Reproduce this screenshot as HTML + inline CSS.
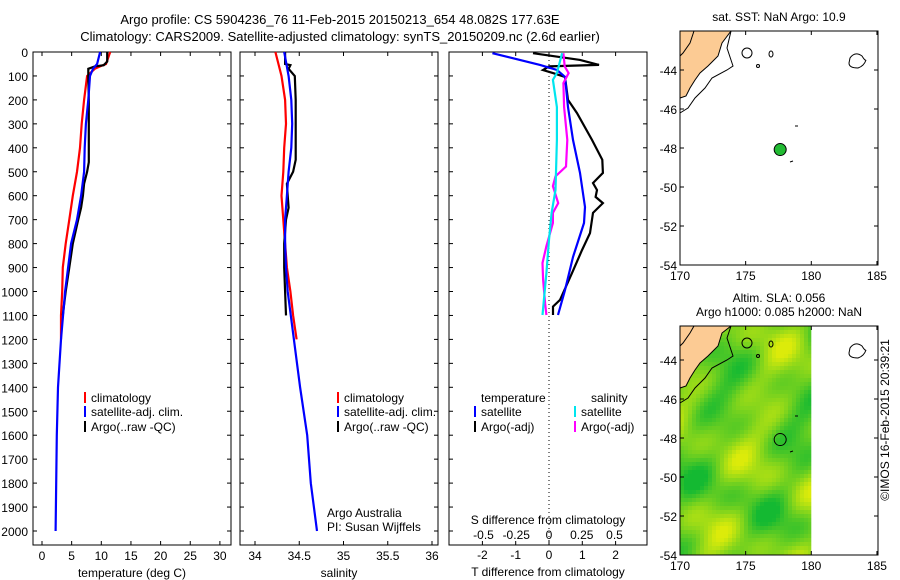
<!DOCTYPE html>
<html><head><meta charset="utf-8"><style>
html,body{margin:0;padding:0;background:#fff;}
svg{display:block;font-family:"Liberation Sans",sans-serif;}
text{font-size:12px;fill:#000;}
</style></head><body>
<svg id="fig" width="900" height="580" viewBox="0 0 900 580" xmlns="http://www.w3.org/2000/svg">
<text x="340" y="24" text-anchor="middle" style="font-size:13px">Argo profile: CS 5904236_76 11-Feb-2015 20150213_654 48.082S 177.63E</text>
<text x="340" y="41" text-anchor="middle" style="font-size:13px">Climatology: CARS2009. Satellite-adjusted climatology: synTS_20150209.nc (2.6d earlier)</text>
<g id="g1"></g>
<g id="g2"></g>
<g id="g3"></g>
<g id="m1"></g>
<g id="m2"></g>
<text transform="translate(889,420) rotate(-90)" text-anchor="middle">©IMOS 16-Feb-2015 20:39:21</text>
</svg>
<script>
// ---- data ----
const depthTicks=[0,100,200,300,400,500,600,700,800,900,1000,1100,1200,1300,1400,1500,1600,1700,1800,1900,2000];
const tTicks=[0,5,10,15,20,25,30];
const sTicks=[34,34.5,35,35.5,36];
const sTickLabels=["34","34.5","35","35.5","36"];
const dTTicks=[-2,-1,0,1,2];
const dSTicks=[-0.5,-0.25,0,0.25,0.5];
const dSTickLabels=["-0.5","-0.25","0","0.25","0.5"];

const climTdepth=[0,50,60,70,100,200,300,400,500,600,700,800,900,1000,1100,1200];
const climT=[11.5,10.8,9.8,8.9,7.6,7.1,6.7,6.4,5.9,5.2,4.6,4.0,3.5,3.4,3.2,3.2];
const satTdepth=[0,50,70,100,200,300,400,500,600,700,800,900,1000,1200,1400,1600,2000];
const satT=[9.8,9.3,8.6,8.1,7.8,7.4,7.2,7.1,6.6,5.9,4.9,4.4,3.9,3.2,2.7,2.5,2.3];
const argoTdepth=[0,40,55,60,70,100,200,300,400,460,500,550,600,650,700,800,900,1000,1100];
const argoT=[11,11,10.4,8.9,7.8,7.8,7.9,7.9,7.9,7.9,7.6,7.1,6.9,6.6,6.1,5.2,4.6,4.0,3.5];

const climSdepth=[0,100,200,300,400,500,600,700,800,900,1000,1100,1200];
const climS=[34.23,34.30,34.34,34.35,34.33,34.32,34.30,34.32,34.34,34.36,34.40,34.43,34.47];
const satSdepth=[0,100,200,300,400,500,600,700,800,900,1000,1400,1600,1800,2000];
const satS=[34.33,34.38,34.41,34.42,34.41,34.38,34.36,34.34,34.34,34.35,34.37,34.51,34.59,34.63,34.70];
const argoSdepth=[0,50,55,70,100,200,300,400,450,500,550,600,650,700,800,900,1000,1100];
const argoS=[34.34,34.34,34.40,34.38,34.45,34.46,34.46,34.46,34.46,34.43,34.36,34.37,34.38,34.35,34.33,34.33,34.34,34.35];

const dTsatDepth=[5,54,75,104,230,367,505,647,714,856,994,1098];
const dTsat=[-1.7,-0.27,0.24,0.48,0.57,0.72,0.93,1.08,1.05,0.72,0.48,0.27];
const dTargoDepth=[5,33,54,60,75,88,104,200,255,367,450,505,547,576,605,631,672,756,827,923,1035,1063,1098];
const dTargo=[-0.48,0.93,1.5,0,-0.18,0.12,0.48,0.57,0.84,1.29,1.6,1.62,1.32,1.44,1.4,1.62,1.32,1.23,0.99,0.69,0.33,0.12,0.12];
const dSsatDepth=[5,88,116,230,367,576,672,784,923,1098];
const dSsat=[0.10,0.06,0.03,0.06,0.06,0.05,0.02,0,-0.02,-0.05];
const dSargoDepth=[5,60,88,130,230,367,478,519,560,631,672,714,811,881,950,1049,1098];
const dSargo=[0.11,0.12,0.15,0.11,0.115,0.14,0.13,0.05,0.03,0.07,0.03,0.03,-0.02,-0.05,-0.045,-0.03,-0.02];

const mapLonTicks=[170,175,180,185];
const mapLatTicks=[-44,-46,-48,-50,-52,-54];
const argoLon=[177.63];
const argoLat=[-48.08];

// ---- helpers ----
const NS="http://www.w3.org/2000/svg";
function mk(p,tag,at){const e=document.createElementNS(NS,tag);for(const k in at)e.setAttribute(k,at[k]);p.appendChild(e);return e;}
const TOP=52,BOT=545;
const yD=d=>TOP+d*0.2395;
function frame(g,x0,x1,name){
  const r=mk(g,'rect',{x:x0,y:TOP,width:x1-x0,height:BOT-TOP,fill:'none',stroke:'#000','stroke-width':1});
  
  
  depthTicks.forEach(d=>{
    mk(g,'line',{x1:x0,x2:x0+4,y1:yD(d),y2:yD(d),stroke:'#000'});
    mk(g,'line',{x1:x1,x2:x1-4,y1:yD(d),y2:yD(d),stroke:'#000'});
  });
}
function xticks(g,vals,labels,fx,ly){
  vals.forEach((v,i)=>{
    const x=fx(v);
    mk(g,'line',{x1:x,x2:x,y1:TOP,y2:TOP+4,stroke:'#000'});
    mk(g,'line',{x1:x,x2:x,y1:BOT,y2:BOT-4,stroke:'#000'});
    const t=mk(g,'text',{x:x,y:ly,'text-anchor':'middle'});t.textContent=labels[i];
    
    
  });
}
function line(g,depths,vals,fx,col,name,w){
  const pts=depths.map((d,i)=>fx(vals[i]).toFixed(1)+','+yD(d).toFixed(1)).join(' ');
  const p=mk(g,'polyline',{points:pts,fill:'none',stroke:col,'stroke-width':w||2.2});
  
  
}
function txt(g,x,y,s,name,anchor){const t=mk(g,'text',{x:x,y:y,'text-anchor':anchor||'start'});t.textContent=s;
  
  return t;}
function legend(g,x,y,col,label){
  mk(g,'rect',{x:x,y:y-10,width:2,height:11,fill:col});
  txt(g,x+7,y,label,'legend-entry');
}

// ---- panel 1 ----
const g1=document.getElementById('g1');
const fT=v=>42+v*5.93;
frame(g1,33,231,'temperature');
depthTicks.forEach(d=>txt(g1,28,yD(d)+5,String(d),'y-tick-label','end'));
xticks(g1,tTicks,tTicks.map(String),fT,560);
txt(g1,132,577,'temperature (deg C)','x-axis-title','middle');
line(g1,climTdepth,climT,fT,'#ff0000','temp-climatology-line');
line(g1,argoTdepth,argoT,fT,'#000000','temp-argo-line');
line(g1,satTdepth,satT,fT,'#0000ff','temp-satellite-line');
legend(g1,84,402,'#ff0000','climatology');
legend(g1,84,416,'#0000ff','satellite-adj. clim.');
legend(g1,84,431,'#000000','Argo(..raw -QC)');

// ---- panel 2 ----
const g2=document.getElementById('g2');
const fS=v=>255+(v-34)*88.5;
frame(g2,240,438,'salinity');
xticks(g2,sTicks,sTickLabels,fS,560);
txt(g2,339,577,'salinity','x-axis-title','middle');
line(g2,climSdepth,climS,fS,'#ff0000','sal-climatology-line');
line(g2,argoSdepth,argoS,fS,'#000000','sal-argo-line');
line(g2,satSdepth,satS,fS,'#0000ff','sal-satellite-line');
legend(g2,337,402,'#ff0000','climatology');
legend(g2,337,416,'#0000ff','satellite-adj. clim.');
legend(g2,337,431,'#000000','Argo(..raw -QC)');
txt(g2,327,517,'Argo Australia','credit-text');
txt(g2,327,531,'PI: Susan Wijffels','credit-text');

// ---- panel 3 ----
const g3=document.getElementById('g3');
const fdT=v=>549+v*33.3;
const fdS=v=>549+v*131;
frame(g3,449,647,'difference');
mk(g3,'line',{x1:549,x2:549,y1:TOP,y2:BOT,stroke:'#000','stroke-dasharray':'1,3'});
xticks(g3,dTTicks,dTTicks.map(String),fdT,559);
dSTicks.forEach((v,i)=>txt(g3,fdS(v),539,dSTickLabels[i],'s-tick-label','middle'));
txt(g3,548,524,'S difference from climatology','s-axis-title','middle');
txt(g3,548,576,'T difference from climatology','x-axis-title','middle');
line(g3,dTargoDepth,dTargo,fdT,'#000000','dT-argo-line');
line(g3,dTsatDepth,dTsat,fdT,'#0000ff','dT-satellite-line');
line(g3,dSargoDepth,dSargo,fdS,'#ff00ff','dS-argo-line');
line(g3,dSsatDepth,dSsat,fdS,'#00e5ee','dS-satellite-line');
txt(g3,481,402,'temperature','legend-header');
txt(g3,591,402,'salinity','legend-header');
legend(g3,474,416,'#0000ff','satellite');
legend(g3,474,431,'#000000','Argo(-adj)');
legend(g3,574,416,'#00e5ee','satellite');
legend(g3,574,431,'#ff00ff','Argo(-adj)');

// ---- maps ----
function drawMap(g,top,bottom,title,colored){
  const L=680,R=878;
  const fx=lon=>680+(lon-170)*13.13;
  const yLat=lat=>bottom-(lat+54)*19.5;
  if(colored){
    const cw=4,ch=4;const x1=fx(180);
    for(let x=L;x<x1;x+=cw)for(let y=top;y<bottom;y+=ch){
      const v=Math.sin(x*0.07+y*0.025+1)*0.45+Math.sin(y*0.09-x*0.04+2)*0.35+Math.sin(x*0.13+y*0.11)*0.25+Math.sin(x*0.031-y*0.057+4)*0.3;
      const t=Math.max(0,Math.min(1,(v+1.0)/2.1));
      const r=Math.round(20+t*200),gg=Math.round(185+t*50),b=Math.round(50-t*40);
      mk(g,'rect',{x:x,y:y,width:Math.min(cw,x1-x),height:Math.min(ch,bottom-y),fill:`rgb(${r},${gg},${b})`});
    }
  }
  const dy=yLat(-44)-72;
  const land=[[680,31],[731,31],[722,45],[718,58],[714,62],[708,68],[700,75],[695,82],[690,90],[686,98],[680,100]]
    .map(p=>[p[0],Math.max(p[1]+dy,top)]);
  mk(g,'polygon',{points:land.map(p=>p[0]+','+p[1]).join(' '),fill:'#fccb94',stroke:'#000','stroke-width':1});
  const shelf=[[731,31],[727,50],[731,62],[733,68],[727,72],[712,80],[705,90],[695,100],[688,110],[680,115]];
  mk(g,'polyline',{points:shelf.map(p=>p[0]+','+Math.max(p[1]+dy,top)).join(' '),fill:'none',stroke:'#000','stroke-width':1});
  mk(g,'polyline',{points:[[694,31],[690,45],[683,55],[680,58]].map(p=>p[0]+','+Math.max(p[1]+dy,top)).join(' '),fill:'none',stroke:'#000','stroke-width':1});
  mk(g,'ellipse',{cx:747,cy:55+dy,rx:5,ry:5,fill:'none',stroke:'#000'});
  mk(g,'ellipse',{cx:771,cy:56+dy,rx:2,ry:3,fill:'none',stroke:'#000'});
  mk(g,'circle',{cx:758,cy:68+dy,r:1.5,fill:'none',stroke:'#000'});
  mk(g,'path',{d:`M850 ${60+dy} q5 -7 12 -2 q3 5 4 4 q-2 6 -8 8 q-9 0 -9 -5 z`,fill:'none',stroke:'#000'});
  mk(g,'line',{x1:795,x2:798,y1:128+dy,y2:128+dy,stroke:'#000'});
  mk(g,'line',{x1:790,x2:793,y1:164+dy,y2:163+dy,stroke:'#000'});
  argoLon.forEach((lon,i)=>{
    const c=mk(g,'circle',{cx:fx(lon),cy:yLat(argoLat[i]),r:6,fill:colored?'none':'#22bb33',stroke:'#000'});
    
    
  });
  const fr=mk(g,'rect',{x:L,y:top,width:R-L,height:bottom-top,fill:'none',stroke:'#000'});
  
  
  mapLonTicks.forEach(lon=>{const x=fx(lon);
    mk(g,'line',{x1:x,x2:x,y1:bottom,y2:bottom-4,stroke:'#000'});
    mk(g,'line',{x1:x,x2:x,y1:top,y2:top+4,stroke:'#000'});
    txt(g,x,bottom+15,String(lon),'map-lon-label','middle');});
  mapLatTicks.forEach(lat=>{const y=yLat(lat);
    mk(g,'line',{x1:L,x2:L+4,y1:y,y2:y,stroke:'#000'});
    mk(g,'line',{x1:R,x2:R-4,y1:y,y2:y,stroke:'#000'});
    txt(g,L-3,y+5,String(lat),'map-lat-label','end');});
  title.forEach((s,i)=>txt(g,779,top-10-(title.length-1-i)*14,s,'map-title','middle'));
}
drawMap(document.getElementById('m1'),31,265,['sat. SST: NaN Argo: 10.9'],false);
drawMap(document.getElementById('m2'),326,555,['Altim. SLA: 0.056','Argo h1000: 0.085 h2000: NaN'],true);
</script>
</body></html>
